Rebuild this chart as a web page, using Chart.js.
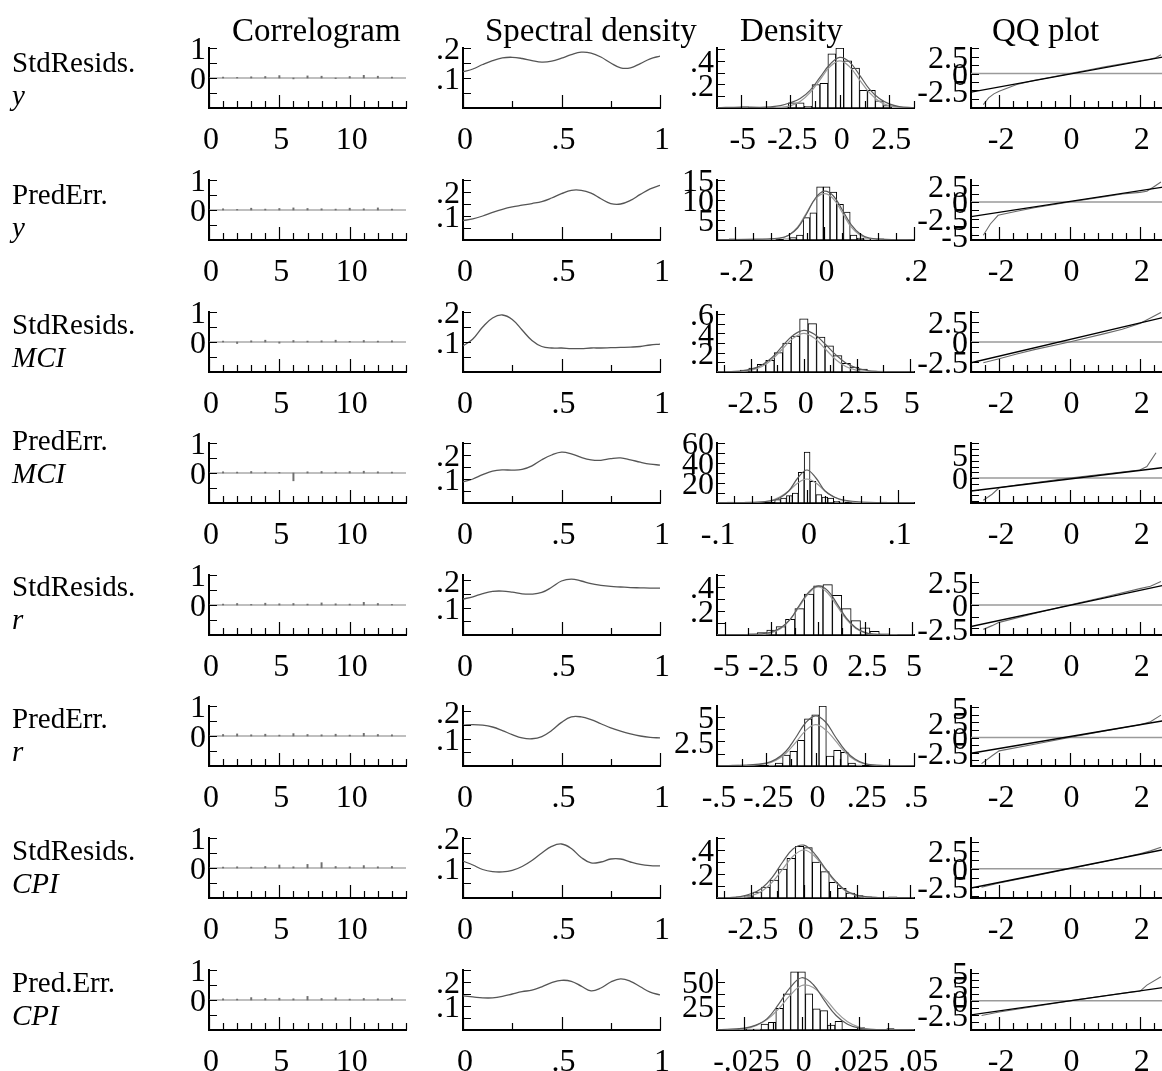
<!DOCTYPE html>
<html>
<head>
<meta charset="utf-8">
<script src="https://cdn.jsdelivr.net/npm/chart.js@4/dist/chart.umd.min.js"></script>
<style>
  html, body { margin: 0; padding: 0; background: #fff; overflow: hidden; width: 1162px; height: 1071px; }
  #fig { position: relative; width: 1162px; height: 1071px; overflow: hidden;
         font-family: "Liberation Serif", "Times New Roman", serif; color: #000; }
  #fig div { position: absolute; white-space: nowrap; line-height: 1; }
  #fig canvas { position: absolute; }
</style>
</head>
<body>
<div id="fig"></div>
<script>
// ---------------- text ----------------
const panelTitles = ['Correlogram', 'Spectral density', 'Density', 'QQ plot'];
const seriesKind = ['StdResids.', 'PredErr.', 'StdResids.', 'PredErr.', 'StdResids.', 'PredErr.', 'StdResids.', 'Pred.Err.'];
const seriesVar = ['y', 'y', 'MCI', 'MCI', 'r', 'r', 'CPI', 'CPI'];

// ---------------- correlograms ----------------
const acfLags = [1, 2, 3, 4, 5, 6, 7, 8, 9, 10, 11, 12, 13];
const acf = [
  [0.03, 0.02, 0.04, 0.05, 0.08, -0.03, 0.07, 0.06, -0.02, 0.05, 0.09, 0.06, 0.03],
  [0.04, 0.02, 0.06, 0.03, 0.05, 0.07, 0.05, 0.04, 0.03, 0.06, 0.04, 0.07, 0.03],
  [0.03, -0.05, 0.04, 0.06, -0.04, 0.05, 0.03, 0.04, 0.06, 0.02, 0.05, 0.03, 0.04],
  [0.04, 0.03, 0.05, 0.03, 0.02, -0.26, 0.04, 0.05, 0.03, 0.05, 0.06, 0.04, 0.03],
  [0.03, 0.05, 0.02, 0.06, 0.04, 0.05, 0.03, 0.07, 0.04, 0.03, 0.09, 0.05, 0.02],
  [0.05, 0.07, 0.04, 0.06, 0.03, 0.08, 0.05, 0.04, 0.06, 0.03, 0.09, 0.05, 0.04],
  [0.03, 0.04, 0.03, 0.05, 0.10, 0.04, 0.12, 0.18, 0.05, 0.04, 0.08, 0.04, 0.05],
  [0.04, 0.03, 0.08, 0.05, 0.06, 0.04, 0.12, 0.05, 0.07, 0.03, 0.05, 0.04, 0.06]
];
const acfXLabels = [0, 5, 10];
const acfYLabels = [0, 1];

// ---------------- spectral densities ----------------
const freq = [0, .05, .1, .15, .2, .25, .3, .35, .4, .45, .5, .55, .6, .65, .7, .75, .8, .85, .9, .95, 1];
const spectrum = [
  [.121, .130, .145, .158, .167, .169, .165, .158, .153, .156, .166, .178, .186, .183, .170, .150, .134, .134, .148, .164, .173],
  [.081, .088, .100, .115, .128, .138, .145, .152, .160, .175, .193, .207, .207, .195, .172, .152, .150, .165, .190, .213, .228],
  [.087, .110, .150, .180, .190, .175, .140, .105, .085, .080, .080, .078, .078, .080, .080, .081, .082, .083, .085, .090, .093],
  [.088, .100, .118, .133, .138, .137, .140, .155, .180, .200, .212, .205, .190, .180, .178, .185, .188, .180, .170, .162, .158],
  [.132, .140, .152, .160, .161, .157, .151, .150, .156, .175, .198, .205, .198, .188, .182, .178, .176, .174, .173, .172, .172],
  [.150, .152, .150, .143, .130, .115, .103, .100, .108, .130, .160, .180, .180, .170, .155, .140, .128, .118, .110, .105, .103],
  [.123, .110, .095, .088, .087, .092, .105, .125, .150, .172, .180, .165, .135, .117, .120, .130, .130, .120, .112, .108, .107],
  [.142, .138, .134, .134, .140, .150, .160, .166, .180, .197, .207, .203, .183, .163, .175, .200, .213, .203, .180, .158, .146]
];
const specXLabels = [0, .5, 1];
const specYLabels = [.1, .2];
const specYMax = [.2, .25, .2, .25, .22, .22, .2, .25];

// ---------------- densities: histograms ----------------
const histStart = [-5.4, -0.2125, -4.2, -0.1005, -3.75, -0.5, -4.0, -0.0404];
const histWidth = [0.4, 0.015, 0.4, 0.0065, 0.5, 0.037, 0.4, 0.00323];
const histHeight = [
  [0, 0.01, 0, 0, 0, 0, 0.005, 0.045, 0.045, 0.015, 0.2, 0.21, 0.46, 0.51, 0.40, 0.34, 0.15, 0.15, 0.06, 0.02, 0.01, 0, 0],
  [0.3, 0, 0, 0, 0, 0, 0.3, 0, 0.3, 0.6, 1.2, 5.6, 6.8, 13.3, 13.3, 12, 8.9, 7, 1.2, 0.5, 0.3, 0.3, 0.3, 0, 0, 0, 0],
  [0, 0, 0.01, 0.02, 0.04, 0.08, 0.12, 0.2, 0.3, 0.37, 0.55, 0.5, 0.36, 0.27, 0.17, 0.09, 0.05, 0.03, 0.01, 0.01, 0, 0, 0],
  [0, 0, 1, 0, 0, 1, 0, 0, 0, 0, 3.3, 5, 7.5, 10, 30.7, 51, 21.7, 8.3, 6, 5, 1.7, 1, 0, 0.5, 0, 0, 0, 0, 1, 0, 0, 0, 0, 0],
  [0.01, 0.02, 0.04, 0.07, 0.13, 0.22, 0.34, 0.41, 0.42, 0.33, 0.22, 0.12, 0.06, 0.03, 0.01, 0.005],
  [0, 0, 0.1, 0, 0, 0, 0, 0.1, 0.3, 1.1, 1.5, 2.6, 4.8, 5.2, 6.1, 1.0, 1.6, 1.4, 0.3, 0.1, 0, 0, 0, 0.1, 0, 0, 0],
  [0, 0, 0.01, 0.02, 0.05, 0.09, 0.15, 0.24, 0.33, 0.43, 0.42, 0.3, 0.22, 0.13, 0.08, 0.04, 0.02, 0.01, 0, 0, 0.01, 0, 0],
  [0, 0, 0, 0, 1, 1, 1, 6, 8, 22.5, 37.5, 60, 60, 37.5, 22, 20, 5, 9, 0, 0, 2.5, 0, 0, 0, 1.5, 0, 0]
];

// ---------------- densities: estimated and normal curves ----------------
const curveX = [
  [-6.2, -5, -4, -3.5, -3, -2.5, -2, -1.5, -1, -0.5, 0, 0.5, 1, 1.5, 2, 2.5, 3, 3.75],
  [-0.24, -0.15, -0.1, -0.08, -0.06, -0.04, -0.02, 0, 0.02, 0.04, 0.06, 0.08, 0.1, 0.15, 0.2],
  [-4.1, -3.5, -3, -2.5, -2, -1.5, -1, -0.5, 0, 0.5, 1, 1.5, 2, 2.5, 3, 3.5, 4, 5.2],
  [-0.099, -0.06, -0.04, -0.03, -0.02, -0.01, 0, 0.01, 0.02, 0.03, 0.04, 0.06, 0.118],
  [-5.4, -4, -3, -2.5, -2, -1.5, -1, -0.5, 0, 0.5, 1, 1.5, 2, 2.5, 3, 4, 5.1],
  [-0.5, -0.35, -0.25, -0.2, -0.15, -0.1, -0.05, 0, 0.05, 0.1, 0.15, 0.2, 0.25, 0.35, 0.5],
  [-4.1, -3.5, -3, -2.5, -2, -1.5, -1, -0.5, 0, 0.5, 1, 1.5, 2, 2.5, 3, 3.5, 4, 5.2],
  [-0.037, -0.025, -0.02, -0.015, -0.01, -0.005, 0, 0.005, 0.01, 0.015, 0.02, 0.025, 0.03, 0.049]
];
const kernelY = [
  [0.002, 0.008, 0.006, 0.01, 0.02, 0.045, 0.08, 0.15, 0.26, 0.37, 0.43, 0.39, 0.28, 0.16, 0.08, 0.035, 0.012, 0.002],
  [0.1, 0.2, 0.5, 1.2, 3.0, 6.5, 10.5, 12.2, 11.0, 7.5, 3.8, 1.5, 0.5, 0.1, 0.05],
  [0, 0.003, 0.01, 0.03, 0.07, 0.15, 0.27, 0.38, 0.43, 0.39, 0.29, 0.18, 0.09, 0.04, 0.015, 0.005, 0.002, 0],
  [0.3, 0.6, 2, 5, 12, 25, 33, 25, 12, 6, 3, 1, 0.3],
  [0, 0.002, 0.01, 0.025, 0.06, 0.13, 0.25, 0.36, 0.41, 0.37, 0.26, 0.14, 0.06, 0.02, 0.007, 0.001, 0],
  [0.02, 0.1, 0.3, 0.7, 1.5, 2.9, 4.4, 5.1, 4.5, 3.0, 1.6, 0.7, 0.25, 0.05, 0.01],
  [0, 0.004, 0.012, 0.035, 0.08, 0.17, 0.3, 0.41, 0.44, 0.37, 0.25, 0.14, 0.06, 0.025, 0.01, 0.004, 0.002, 0],
  [0.3, 2, 5, 12, 27, 44, 54, 47, 30, 15, 6, 2, 0.6, 0]
];
const normalY = [
  [0, 0, 0.0002, 0.001, 0.005, 0.018, 0.055, 0.13, 0.24, 0.35, 0.40, 0.35, 0.24, 0.13, 0.055, 0.018, 0.005, 0.0005],
  [0, 0.05, 0.4, 1.2, 3.2, 6.8, 10.3, 11.6, 10.3, 6.8, 3.2, 1.2, 0.4, 0.05, 0],
  [0, 0.001, 0.004, 0.018, 0.054, 0.13, 0.24, 0.35, 0.40, 0.35, 0.24, 0.13, 0.054, 0.018, 0.004, 0.001, 0, 0],
  [0, 0.3, 2.5, 6, 12, 20, 24, 20, 12, 6, 2.5, 0.3, 0],
  [0, 0, 0.004, 0.018, 0.054, 0.13, 0.24, 0.35, 0.40, 0.35, 0.24, 0.13, 0.054, 0.018, 0.004, 0, 0],
  [0, 0.05, 0.25, 0.6, 1.3, 2.4, 3.6, 4.2, 3.7, 2.6, 1.4, 0.6, 0.2, 0.02, 0],
  [0, 0.001, 0.004, 0.018, 0.054, 0.13, 0.24, 0.35, 0.40, 0.35, 0.24, 0.13, 0.054, 0.018, 0.004, 0.001, 0, 0],
  [0.1, 1.5, 4.5, 11, 22, 36, 46, 44, 33, 19, 8.5, 3, 0.8, 0]
];
const densXMin = [-6.2, -0.24, -4.1, -0.099, -5.4, -0.5, -4.1, -0.037];
const densXMax = [3.75, 0.2, 5.2, 0.118, 5.1, 0.5, 5.2, 0.049];
const densXLabels = [
  [-5, -2.5, 0, 2.5], [-.2, 0, .2], [-2.5, 0, 2.5, 5], [-.1, 0, .1],
  [-5, -2.5, 0, 2.5, 5], [-.5, -.25, 0, .25, .5], [-2.5, 0, 2.5, 5], [-.025, 0, .025, .05]
];
const densXStep = [1.25, .04, 1.25, .02, 1.25, .125, 1.25, .0125];
const densYMax = [.51, 15, .62, 60, .5, 6.1, .5, 62];
const densYLabels = [[.2, .4], [5, 10, 15], [.2, .4, .6], [20, 40, 60], [.2, .4], [2.5, 5], [.2, .4], [25, 50]];
const densYStep = [.1, 2.5, .1, 10, .1, 1.25, .1, 12.5];

// ---------------- QQ plots ----------------
const qqRefX = [-2.8, 2.8];
const qqRefY = [[-2.75, 2.6], [-2.2, 2.35], [-2.6, 3.2], [-2.8, 2.4], [-2.3, 2.2], [-2.6, 2.9], [-2.7, 2.8], [-2.5, 2.5]];
const qqX = [
  [-2.45, -2.3, -2.15, -2.0, -1.5, -1, -0.5, 0, 0.5, 1, 1.5, 2.0, 2.3, 2.45, 2.6],
  [-2.45, -2.25, -2.03, -1.5, -1, 0, 1, 1.5, 2.0, 2.2, 2.4, 2.6],
  [-2.45, -2, -1.5, -1, 0, 1, 1.5, 2, 2.3, 2.6],
  [-2.45, -2.2, -2.0, -1.5, -1, 0, 1, 1.5, 2.0, 2.2, 2.46],
  [-2.45, -2.2, -2, -1, 0, 1, 2, 2.3, 2.6],
  [-2.5, -2.2, -2, -1, 0, 1, 2, 2.3, 2.6],
  [-2.5, -2, -1, 0, 1, 2, 2.3, 2.6],
  [-2.5, -2, -1, 0, 1, 1.8, 2.0, 2.2, 2.6]
];
const qqY = [
  [-4.6, -3.6, -3.0, -2.6, -1.6, -1.0, -0.5, 0, 0.5, 1.0, 1.45, 1.9, 2.15, 2.35, 2.8],
  [-5.0, -3.3, -2.0, -1.4, -0.85, 0, 0.8, 1.2, 1.45, 1.6, 2.3, 3.0],
  [-2.6, -2.1, -1.5, -0.95, 0, 1.05, 1.6, 2.3, 3.0, 3.7],
  [-4.8, -3.5, -2.1, -1.5, -1.0, 0, 0.9, 1.3, 1.75, 2.5, 5.5],
  [-2.6, -2.2, -1.85, -0.9, 0, 0.85, 1.75, 2.0, 2.5],
  [-4.3, -3.0, -2.2, -1.1, 0, 1.1, 2.1, 2.6, 3.7],
  [-2.6, -2.0, -1.0, 0, 1.0, 2.1, 2.5, 3.0],
  [-2.6, -2.0, -1.0, 0, 0.9, 1.6, 1.7, 2.8, 4.3]
];
const qqXLabels = [-2, 0, 2];
const qqYMin = [-5.1, -5.7, -3.75, -5.4, -3.2, -4.7, -4.1, -5.2];
const qqYMax = [3.8, 3.3, 3.75, 7.6, 3.2, 5.2, 4.3, 5.5];
const qqYLabels = [[-2.5, 0, 2.5], [-5, -2.5, 0, 2.5], [-2.5, 0, 2.5], [0, 5], [-2.5, 0, 2.5], [-2.5, 0, 2.5, 5], [-2.5, 0, 2.5], [-2.5, 0, 2.5, 5]];

// ---------------- layout ----------------
const ROW_TOP = [48, 180, 312, 443, 575, 706, 838, 970];
const PLOT_H = 60;
const PLOT_W = 197;
const COL_LEFT = [209, 463, 717, 971];
const TICK_FONT = { family: '"Liberation Serif", "Times New Roman", serif', size: 32 };
const ROW_LABEL_BASE = [72, 204, 334, 450, 596, 728, 860, 992];
const ROW_LABEL_GAP = 33;

const fig = document.getElementById('fig');

// Number labels in the compact style: 0.5 -> ".5", -0.25 -> "-.25"
function fmt(v) {
  if (Math.abs(v) < 1e-12) return '0';
  return String(+v.toFixed(5)).replace(/^(-?)0\./, '$1.');
}

// Tick marks drawn inward from the axes
const innerTicks = {
  id: 'innerTicks',
  afterDatasetsDraw(chart, args, o) {
    const { ctx, chartArea: a, scales } = chart;
    ctx.save();
    ctx.strokeStyle = '#000';
    ctx.lineWidth = 1.2;
    ctx.beginPath();
    const walk = (scale, step, majors, cb) => {
      const i0 = Math.ceil(scale.min / step - 1e-6);
      const i1 = Math.floor(scale.max / step + 1e-6);
      for (let i = i0; i <= i1; i++) {
        const v = i * step;
        const major = majors.some(m => Math.abs(m - v) < step * 1e-3);
        cb(scale.getPixelForValue(v), major);
      }
    };
    walk(scales.x, o.xStep, o.xMajor, (p, major) => {
      const px = Math.round(p) + 0.5;
      ctx.moveTo(px, a.bottom);
      ctx.lineTo(px, a.bottom - (major ? 13 : 7));
    });
    walk(scales.y, o.yStep, [], p => {
      const py = Math.round(p) + 0.5;
      ctx.moveTo(a.left, py);
      ctx.lineTo(a.left + 8, py);
    });
    ctx.stroke();
    ctx.restore();
  }
};

function axis(min, max, labels, isX, padX, padY) {
  return {
    type: 'linear', min, max, offset: false,
    grid: { display: false, drawTicks: false },
    border: { display: true, color: '#000', width: 2 },
    ticks: {
      font: TICK_FONT, color: '#000', autoSkip: false, maxRotation: 0, minRotation: 0,
      padding: isX ? 13 : 3, labelOffset: isX ? 2 : 3, callback: v => fmt(v)
    },
    afterBuildTicks: s => { s.ticks = labels.map(v => ({ value: v })); },
    afterFit: s => { if (isX) s.height = padY; else s.width = padX; }
  };
}

function panel(row, col, spec) {
  const padL = 80, padT = 26, padR = 40, padB = 56;
  const w = padL + PLOT_W + padR, h = padT + PLOT_H + padB;
  const c = document.createElement('canvas');
  c.width = w; c.height = h;
  c.style.left = (COL_LEFT[col] - padL) + 'px';
  c.style.top = (ROW_TOP[row] - padT) + 'px';
  c.style.width = w + 'px'; c.style.height = h + 'px';
  fig.appendChild(c);
  new Chart(c, {
    type: 'line',
    data: { datasets: spec.datasets },
    options: {
      responsive: false, animation: false, events: [], devicePixelRatio: 1,
      layout: { padding: { top: padT, right: padR, left: 0, bottom: 0 } },
      plugins: {
        legend: { display: false }, tooltip: { enabled: false },
        innerTicks: { xStep: spec.xStep, xMajor: spec.xLabels, yStep: spec.yStep }
      },
      scales: {
        x: axis(spec.xMin, spec.xMax, spec.xLabels, true, padL, padB),
        y: axis(spec.yMin, spec.yMax, spec.yLabels, false, padL, padB)
      }
    },
    plugins: [innerTicks]
  });
}

const line = (data, color, width, order, tension) => ({
  type: 'line', data, borderColor: color, borderWidth: width, pointRadius: 0,
  fill: false, tension: tension || 0, order
});

for (let r = 0; r < 8; r++) {
  // Correlogram
  panel(r, 0, {
    xMin: 0, xMax: 14, xLabels: acfXLabels, xStep: 1,
    yMin: -1, yMax: 1, yLabels: acfYLabels, yStep: 0.5,
    datasets: [
      line([{ x: 0, y: 0 }, { x: 14, y: 0 }], '#808080', 1.2, 2),
      {
        type: 'bar', data: acfLags.map((l, i) => ({ x: l, y: acf[r][i] })),
        backgroundColor: '#707070', borderWidth: 0, barThickness: 1.3, order: 1
      }
    ]
  });

  // Spectral density
  panel(r, 1, {
    xMin: 0, xMax: 1, xLabels: specXLabels, xStep: 0.25,
    yMin: 0, yMax: specYMax[r], yLabels: specYLabels, yStep: 0.05,
    datasets: [
      line(freq.map((f, i) => ({ x: f, y: spectrum[r][i] })), '#555', 1.3, 1, 0.4)
    ]
  });

  // Density: histogram with estimated and normal densities
  panel(r, 2, {
    xMin: densXMin[r], xMax: densXMax[r], xLabels: densXLabels[r], xStep: densXStep[r],
    yMin: 0, yMax: densYMax[r], yLabels: densYLabels[r], yStep: densYStep[r],
    datasets: [
      line(curveX[r].map((x, i) => ({ x, y: kernelY[r][i] })), '#5a5a5a', 1.2, 1, 0.4),
      line(curveX[r].map((x, i) => ({ x, y: normalY[r][i] })), '#9a9a9a', 1.2, 2, 0.4),
      {
        type: 'bar',
        data: histHeight[r].map((hgt, i) => ({ x: histStart[r] + histWidth[r] * (i + 0.5), y: hgt })),
        backgroundColor: '#fff', borderColor: '#000', borderWidth: 1, borderSkipped: false,
        barPercentage: 1, categoryPercentage: 1, grouped: false, order: 3
      }
    ]
  });

  // QQ plot
  panel(r, 3, {
    xMin: -2.8, xMax: 2.8, xLabels: qqXLabels, xStep: 0.4,
    yMin: qqYMin[r], yMax: qqYMax[r], yLabels: qqYLabels[r], yStep: 1.25,
    datasets: [
      line([{ x: -2.8, y: 0 }, { x: 2.8, y: 0 }], '#9a9a9a', 1.5, 3),
      line(qqRefX.map((x, i) => ({ x, y: qqRefY[r][i] })), '#000', 1.4, 1),
      line(qqX[r].map((x, i) => ({ x, y: qqY[r][i] })), '#6a6a6a', 1.1, 2)
    ]
  });
}

// Text placed by baseline (Liberation Serif, line-height 1: baseline at 0.8375em)
function text(str, left, baseline, size, italic) {
  const d = document.createElement('div');
  d.textContent = str;
  d.style.left = left + 'px';
  d.style.top = (baseline - 0.8375 * size) + 'px';
  d.style.fontSize = size + 'px';
  if (italic) d.style.fontStyle = 'italic';
  fig.appendChild(d);
}

const titleLeft = [232, 485, 740, 992];
panelTitles.forEach((t, i) => text(t, titleLeft[i], 42, 33));
for (let r = 0; r < 8; r++) {
  text(seriesKind[r], 12, ROW_LABEL_BASE[r], 29);
  text(seriesVar[r], 12, ROW_LABEL_BASE[r] + ROW_LABEL_GAP, 29, true);
}
</script>
</body>
</html>
